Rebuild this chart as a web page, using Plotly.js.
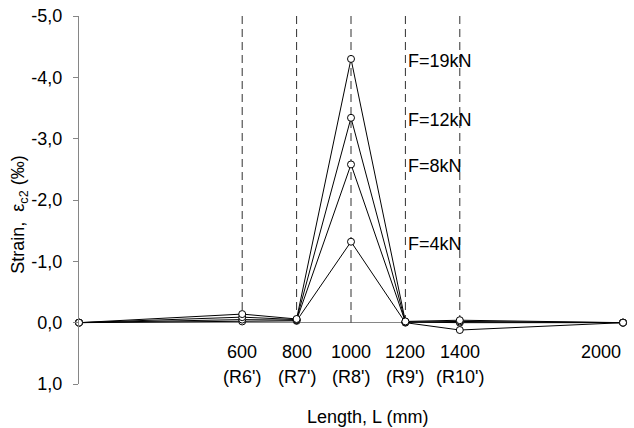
<!DOCTYPE html>
<html>
<head>
<meta charset="utf-8">
<script src="https://cdn.plot.ly/plotly-3.0.1.min.js"></script>
<style>html,body{margin:0;padding:0;background:#fff}#chart{width:634px;height:428px}</style>
</head>
<body>
<div id="chart"></div>
<script>
// ---- data ----
var positions = [0, 600, 800, 1000, 1200, 1400, 2000];
var seriesNames = ["F=4kN", "F=8kN", "F=12kN", "F=19kN"];
var strainF4  = [0, -0.02, -0.03, -1.32,  0.00,  0.12, 0];
var strainF8  = [0, -0.05, -0.04, -2.58, -0.01,  0.00, 0];
var strainF12 = [0, -0.09, -0.05, -3.34, -0.01, -0.02, 0];
var strainF19 = [0, -0.14, -0.06, -4.30, -0.02, -0.04, 0];
var sensorPositions = [600, 800, 1000, 1200, 1400];
var sensorLabels = ["(R6')", "(R7')", "(R8')", "(R9')", "(R10')"];
var xTickValues = [600, 800, 1000, 1200, 1400, 2000];
var xTickLabels = ["600", "800", "1000", "1200", "1400", "2000"];
var yTickValues = [-5, -4, -3, -2, -1, 0, 1];
var yTickLabels = ["-5,0", "-4,0", "-3,0", "-2,0", "-1,0", "0,0", "1,0"];
var yRange = [1, -5];

var FONT = "Arial, 'Liberation Sans', sans-serif";
var FS = 18;
var allSeries = [strainF4, strainF8, strainF12, strainF19];

var traces = [];
// dashed vertical lines at sensor positions
sensorPositions.forEach(function (p) {
  traces.push({
    x: [p, p], y: [yRange[1], 0], mode: "lines", type: "scatter",
    line: {color: "#303030", width: 1, dash: "8px,5px"},
    hoverinfo: "skip", showlegend: false
  });
});
allSeries.forEach(function (s, i) {
  traces.push({
    x: positions, y: s, name: seriesNames[i], type: "scatter", mode: "lines+markers",
    line: {color: "#000", width: 1},
    marker: {symbol: "circle", size: 7, color: "#fff", line: {color: "#000", width: 1}},
    cliponaxis: false, showlegend: false
  });
});

var annotations = [];
// load labels next to peaks, at the R9' line
var labelX = sensorPositions[3];
allSeries.forEach(function (s, i) {
  var peak = Math.min.apply(null, s);
  annotations.push({x: labelX, y: peak, xref: "x", yref: "y", text: seriesNames[i],
    showarrow: false, xanchor: "left", yanchor: "middle", xshift: 1, yshift: -2,
    font: {family: FONT, size: FS, color: "#000"}});
});
// x tick labels
xTickValues.forEach(function (v, i) {
  var last = (i === xTickValues.length - 1);
  annotations.push({x: v, y: 0, xref: "x", yref: "paper", text: xTickLabels[i],
    showarrow: false, xanchor: last ? "right" : "center", yanchor: "middle", yshift: 32,
    font: {family: FONT, size: FS, color: "#000"}});
});
sensorPositions.forEach(function (v, i) {
  annotations.push({x: v, y: 0, xref: "x", yref: "paper", text: sensorLabels[i],
    showarrow: false, xanchor: "center", yanchor: "middle", yshift: 7,
    font: {family: FONT, size: FS, color: "#000"}});
});
// axis titles
annotations.push({x: 0.53, y: 0, xref: "paper", yref: "paper", text: "Length, L (mm)",
  showarrow: false, xanchor: "center", yanchor: "middle", yshift: -33,
  font: {family: FONT, size: FS, color: "#000"}});
annotations.push({x: 0, y: 0.46, xref: "paper", yref: "paper",
  text: "Strain,  ε<sub>c2</sub> (‰)", textangle: -90,
  showarrow: false, xanchor: "center", yanchor: "middle", xshift: -59,
  font: {family: FONT, size: FS, color: "#000"}});

var layout = {
  width: 634, height: 428,
  margin: {l: 79, r: 11, t: 16, b: 44, pad: 0},
  paper_bgcolor: "#fff", plot_bgcolor: "#fff",
  showlegend: false,
  font: {family: FONT, size: FS, color: "#000"},
  xaxis: {range: [0, 2000], showline: false, showticklabels: false, showgrid: false,
          zeroline: false, ticks: "", fixedrange: true},
  yaxis: {range: yRange, tickvals: yTickValues, ticktext: yTickLabels,
          showline: true, linecolor: "#868686", linewidth: 1,
          ticks: "outside", ticklen: 5, tickcolor: "#868686", tickwidth: 1,
          showgrid: false, zeroline: true, zerolinecolor: "#868686", zerolinewidth: 1,
          tickfont: {family: FONT, size: FS, color: "#000"}, ticklabelstandoff: 7,
          automargin: false, fixedrange: true},
  annotations: annotations
};

Plotly.newPlot("chart", traces, layout, {displayModeBar: false, staticPlot: true});
</script>
</body>
</html>
